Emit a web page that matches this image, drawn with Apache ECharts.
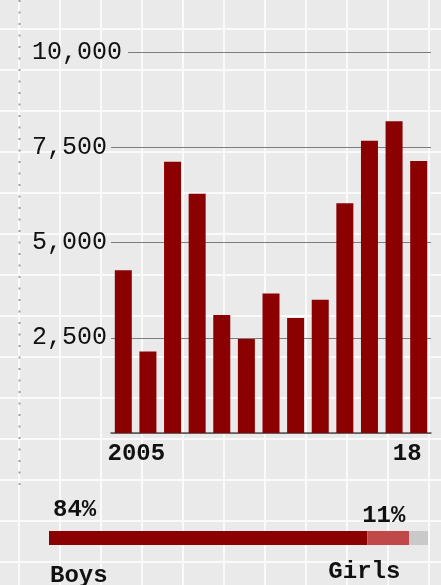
<!DOCTYPE html>
<html>
<head>
<meta charset="utf-8">
<script src="https://cdn.jsdelivr.net/npm/echarts@6/dist/echarts.min.js"></script>
<style>
html,body{margin:0;padding:0;width:441px;height:585px;overflow:hidden;}
body{
  background-color:#eaeaea;
  background-image:
    linear-gradient(to right,#fafafa 0,#fafafa 2px,transparent 2px),
    linear-gradient(to bottom,#fafafa 0,#fafafa 2px,transparent 2px);
  background-size:41px 41px;
  background-position:18px 28px;
}
#chart{width:441px;height:585px;}
</style>
</head>
<body>
<div id="chart"></div>
<script>
// ---- data ----
const years = ['2005-06','2006-07','2007-08','2008-09','2009-10','2010-11','2011-12',
               '2012-13','2013-14','2014-15','2015-16','2016-17','2017-18'];
const counts = [4270, 2140, 7120, 6280, 3100, 2470, 3660, 3020, 3500, 6030, 7670, 8180, 7140];
const yTicks = [0, 2500, 5000, 7500, 10000];
const xTickIndex = [0, 12];
const xTickText = ['2005', '18'];
const shareNames = ['Boys', 'Girls', 'Other'];
const shareValues = [84, 11, 5];

// ---- chart ----
const mono = '"Liberation Mono","DejaVu Sans Mono",monospace';
const ink = '#111';
const chart = echarts.init(document.getElementById('chart'), null, {renderer: 'canvas'});

const tickFont = {fontFamily: mono, fontSize: 24, fontWeight: 'bold', color: ink, lineHeight: 24};
const lblFont = {fontFamily: mono, fontSize: 24, fontWeight: 'bold', color: ink, lineHeight: 24};

function shareLabel(i) {
  if (i === 0) {
    return {
      show: true, position: [1, -33.5], align: 'left', verticalAlign: 'top',
      formatter: p => `{p|${p.value}%}\n{g| }\n{n|${p.seriesName}}`,
      rich: {
        p: Object.assign({}, lblFont, {padding: [0, 0, 0, 3]}),
        g: {fontSize: 10, lineHeight: 42},
        n: Object.assign({}, lblFont)
      }
    };
  }
  if (i === 1) {
    return {
      show: true, position: [38, -27.5], align: 'right', verticalAlign: 'top',
      formatter: p => `{p|${p.value}%}\n{g| }\n{n|${p.seriesName}}`,
      rich: {
        p: Object.assign({}, lblFont, {align: 'right'}),
        g: {fontSize: 10, lineHeight: 32, align: 'right'},
        n: Object.assign({}, lblFont, {align: 'right', padding: [0, 5, 0, 0]})
      }
    };
  }
  return {show: false};
}

const shareColors = ['#8b0000', '#c04848', '#c9c9c9'];

const option = {
  animation: false,
  backgroundColor: 'transparent',
  grid: [
    {left: 111, right: 10, top: 52, bottom: 152, outerBoundsMode: 'none', containLabel: false},
    {left: 49, right: 13, top: 531, height: 14, outerBoundsMode: 'none', containLabel: false}
  ],
  xAxis: [
    {
      type: 'category', gridIndex: 0, data: years,
      axisTick: {show: false},
      axisLine: {lineStyle: {color: '#555', width: 1.5}},
      axisLabel: {
        interval: (i) => xTickIndex.includes(i),
        margin: 9,
        formatter: (v, i) => {
          const k = xTickIndex.indexOf(i);
          if (k < 0) return '';
          return (k === 0 ? '{l|' : '{r|') + xTickText[k] + '}';
        },
        rich: {
          l: Object.assign({}, tickFont, {padding: [0, 0, 0, 26]}),
          r: Object.assign({}, tickFont, {padding: [0, 23, 0, 0]})
        }
      }
    },
    {type: 'value', gridIndex: 1, min: 0, max: 100, show: false}
  ],
  yAxis: [
    {
      type: 'value', gridIndex: 0,
      min: yTicks[0], max: yTicks[yTicks.length - 1], interval: yTicks[1] - yTicks[0],
      axisLine: {show: false}, axisTick: {show: false},
      splitLine: {lineStyle: {color: '#7d7d7d', width: 1}},
      axisLabel: {
        showMinLabel: false,
        align: 'left',
        margin: 79,
        formatter: (v) => {
          if (v === 0) return '';
          const s = v.toLocaleString('en-US');
          if (v === yTicks[yTicks.length - 1]) {
            return '{a|' + s.slice(0, -1) + '}{b|' + s.slice(-1) + '}';
          }
          return '{a|' + s + '}';
        },
        rich: {
          a: {fontFamily: mono, fontSize: 25, color: ink},
          b: {fontFamily: mono, fontSize: 25, color: ink, backgroundColor: '#eaeaea', padding: [0, 6, 0, 0]}
        }
      }
    },
    {type: 'category', gridIndex: 1, data: ['share'], show: false}
  ],
  series: [
    {
      type: 'bar', xAxisIndex: 0, yAxisIndex: 0,
      data: counts, barWidth: 17,
      itemStyle: {color: '#8b0000'}
    }
  ].concat(shareNames.map((n, i) => ({
    type: 'bar', name: n, xAxisIndex: 1, yAxisIndex: 1, stack: 'share',
    data: [shareValues[i]], barWidth: 14,
    itemStyle: {color: shareColors[i]},
    label: shareLabel(i)
  }))),
  graphic: [
    {
      type: 'line', silent: true,
      shape: {x1: 19.5, y1: 0, x2: 19.5, y2: 486},
      style: {stroke: '#a0a0a0', lineWidth: 2, lineDash: [2, 9.5]}
    }
  ]
};
chart.setOption(option);
</script>
</body>
</html>
